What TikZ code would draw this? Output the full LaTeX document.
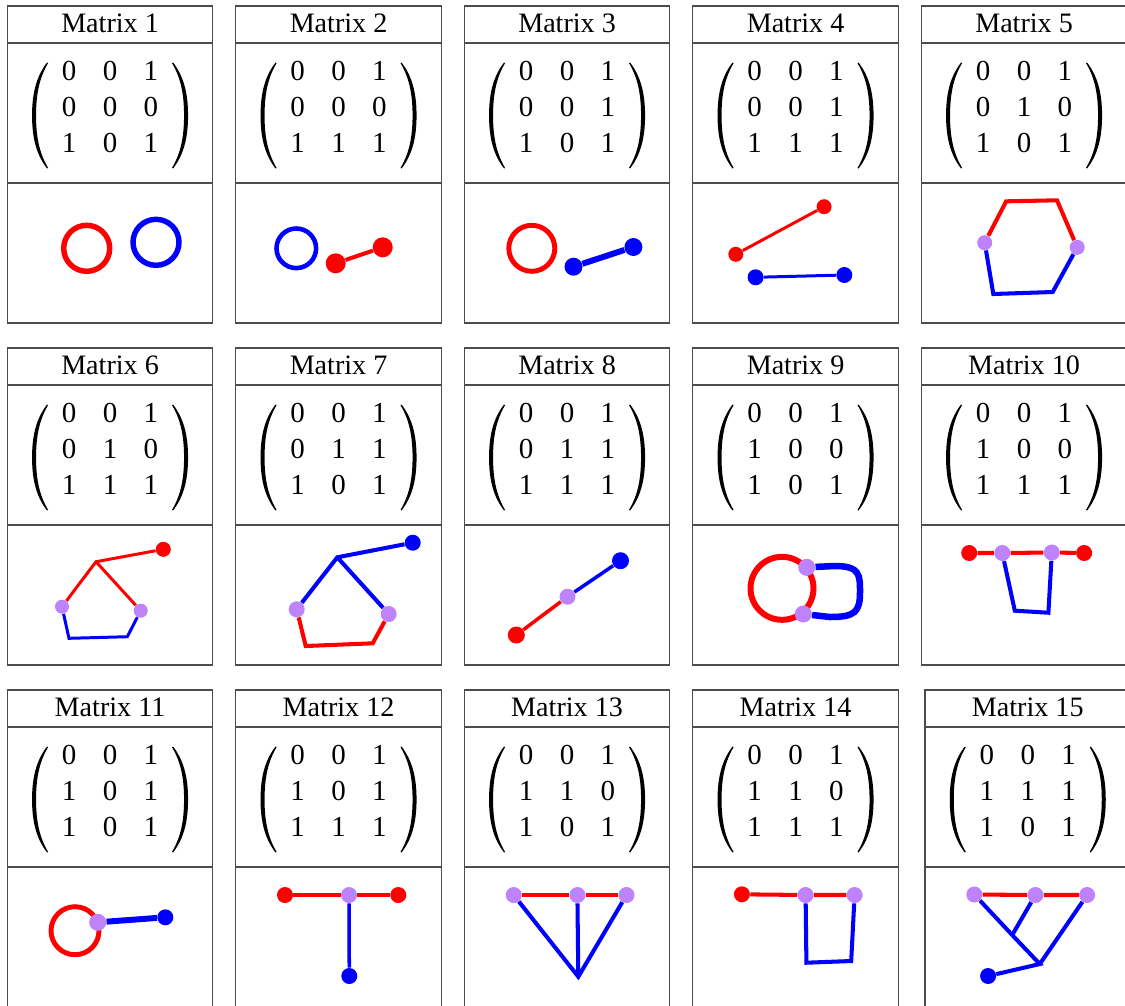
\documentclass[tikz,border=0pt]{standalone}
\usepackage{fontspec}
\setmainfont{Liberation Serif}
\usetikzlibrary{positioning}
\definecolor{lav}{RGB}{190,130,250}
\setlength{\tabcolsep}{7.5pt}
\tikzset{
  cellbox/.style={draw=black!70, line width=0.6pt},
  titletext/.style={font=\fontsize{16}{19}\selectfont, anchor=base, inner sep=0pt},
  mattext/.style={font=\fontsize{16.5}{20.5}\selectfont, inner sep=0pt},
  paren/.style={fill=black},
  reddot/.style={circle, fill=red, inner sep=0pt, minimum size=3.2mm},
  bluedot/.style={circle, fill=blue, inner sep=0pt, minimum size=3.2mm},
  mixdot/.style={circle, fill=lav, inner sep=0pt, minimum size=3.2mm},
  redline/.style={draw=red, line width=2.3pt},
  blueline/.style={draw=blue, line width=2.3pt}
}
% one big left parenthesis, centred on the current origin
\newcommand{\bigparen}{(-63,-53) .. controls (-73,-40) and (-78,-24) .. (-78,0)
  .. controls (-78,24) and (-73,40) .. (-63,53) -- (-62,52.3)
  .. controls (-70.5,38) and (-74,22) .. (-74,0)
  .. controls (-74,-22) and (-70.5,-38) .. (-62,-52.3) -- cycle}
% frame, title and matrix of one panel: x, y, number, three rows
\newcommand{\matpanel}[6]{%
  \draw[cellbox] (#1,#2) rectangle ++(205.5,37);
  \draw[cellbox] (#1,#2+37) rectangle ++(205.5,140);
  \draw[cellbox] (#1,#2+177) rectangle ++(205.5,140);
  \node[titletext] (t#3) at (#1+102.75,#2+26.6) {Matrix #3};
  \node[mattext] (m#3) at (#1+102.75,#2+103.5) {\begin{tabular}{ccc}#4\\#5\\#6\end{tabular}};
  \begin{scope}[shift={(#1+102.75,#2+109.5)}]
    \fill[paren] \bigparen;
    \fill[paren, xscale=-1] \bigparen;
  \end{scope}
}

\begin{document}
\begin{tikzpicture}[x=0.02cm,y=-0.02cm]
  \path[use as bounding box, fill=white] (0,0) rectangle (1125,1005);

  \matpanel{7.3}{6}{1}{0&0&1}{0&0&0}{1&0&1}
  \matpanel{235.8}{6}{2}{0&0&1}{0&0&0}{1&1&1}
  \matpanel{464.3}{6}{3}{0&0&1}{0&0&1}{1&0&1}
  \matpanel{692.8}{6}{4}{0&0&1}{0&0&1}{1&1&1}
  \matpanel{921.3}{6}{5}{0&0&1}{0&1&0}{1&0&1}
  \matpanel{7.3}{348}{6}{0&0&1}{0&1&0}{1&1&1}
  \matpanel{235.8}{348}{7}{0&0&1}{0&1&1}{1&0&1}
  \matpanel{464.3}{348}{8}{0&0&1}{0&1&1}{1&1&1}
  \matpanel{692.8}{348}{9}{0&0&1}{1&0&0}{1&0&1}
  \matpanel{921.3}{348}{10}{0&0&1}{1&0&0}{1&1&1}
  \matpanel{7.3}{690}{11}{0&0&1}{1&0&1}{1&0&1}
  \matpanel{235.8}{690}{12}{0&0&1}{1&0&1}{1&1&1}
  \matpanel{464.3}{690}{13}{0&0&1}{1&1&0}{1&0&1}
  \matpanel{692.8}{690}{14}{0&0&1}{1&1&0}{1&1&1}
  \matpanel{925}{690}{15}{0&0&1}{1&1&1}{1&0&1}

  % Matrix 1
  \coordinate (o1a) at (86.7,248.3);
  \coordinate (o1b) at (156,242.3);
  \draw[redline, line width=3.1pt] (o1a) circle[radius=23];
  \draw[blueline, line width=3.1pt] (o1b) circle[radius=23];

  % Matrix 2
  \coordinate (o2) at (296.3,248.3);
  \draw[blueline, line width=2.6pt] (o2) circle[radius=19.8];
  \node[reddot, minimum size=4mm] (r2a) at (335.7,263.3) {};
  \node[reddot, minimum size=4mm] (r2b) at (382.7,247.3) {};
  \draw[redline] (r2a) -- (r2b);

  % Matrix 3
  \coordinate (o3) at (531.8,248.3);
  \draw[redline, line width=2.8pt] (o3) circle[radius=23];
  \node[bluedot, minimum size=3.6mm] (b3a) at (573.5,266.7) {};
  \node[bluedot, minimum size=3.6mm] (b3b) at (633.4,247) {};
  \draw[blueline, line width=3.4pt] (b3a) -- (b3b);

  % Matrix 4
  \node[reddot, minimum size=3mm] (r4a) at (735.8,254.3) {};
  \node[reddot, minimum size=3mm] (r4b) at (824.1,206.7) {};
  \node[bluedot] (b4a) at (755.6,277.3) {};
  \node[bluedot] (b4b) at (844.3,275) {};
  \draw[redline, line width=1.7pt] (r4a) -- (r4b);
  \draw[blueline, line width=1.7pt] (b4a) -- (b4b);

  % Matrix 5
  \node[mixdot, minimum size=3mm] (m5a) at (984.7,242.7) {};
  \node[mixdot, minimum size=3mm] (m5b) at (1077.2,247.3) {};
  \coordinate (t5a) at (1006.2,201.3);
  \coordinate (t5b) at (1057,200.3);
  \coordinate (s5a) at (993.3,294);
  \coordinate (s5b) at (1052.7,292);
  \draw[redline] (m5a) -- (t5a) -- (t5b) -- (m5b);
  \draw[blueline] (m5a) -- (s5a) -- (s5b) -- (m5b);

  % Matrix 6
  \node[reddot, minimum size=3mm] (r6) at (163.3,549.3) {};
  \coordinate (k6) at (96,561.7);
  \node[mixdot, minimum size=2.8mm] (m6a) at (62,606.7) {};
  \node[mixdot, minimum size=2.8mm] (m6b) at (140.7,610.7) {};
  \coordinate (s6a) at (69,638.3);
  \coordinate (s6b) at (127.3,636.7);
  \draw[redline, line width=1.7pt] (r6) -- (k6) -- (m6a) (k6) -- (m6b);
  \draw[blueline, line width=1.7pt] (m6a) -- (s6a) -- (s6b) -- (m6b);

  % Matrix 7
  \node[bluedot] (b7) at (412.7,542.7) {};
  \coordinate (k7) at (337.3,557.3);
  \node[mixdot] (m7a) at (296.7,609.3) {};
  \node[mixdot] (m7b) at (388.7,614) {};
  \coordinate (s7a) at (305.7,646);
  \coordinate (s7b) at (372.7,643.3);
  \draw[blueline] (b7) -- (k7) -- (m7a) (k7) -- (m7b);
  \draw[redline] (m7a) -- (s7a) -- (s7b) -- (m7b);

  % Matrix 8
  \node[reddot, minimum size=3.4mm] (r8) at (516.3,635) {};
  \node[mixdot] (m8) at (567.5,596.7) {};
  \node[bluedot, minimum size=3.4mm] (b8) at (620.5,560.7) {};
  \draw[redline, line width=2pt] (r8) -- (m8);
  \draw[blueline, line width=2pt] (m8) -- (b8);

  % Matrix 9
  \coordinate (o9) at (782,588.3);
  \draw[redline, line width=3.4pt] (o9) circle[radius=31.5];
  \node[mixdot, minimum size=3.4mm] (m9a) at (806.7,567.3) {};
  \node[mixdot, minimum size=3.4mm] (m9b) at (803.3,614) {};
  \draw[blueline, line width=3.7pt] (m9a) -- (835,566) .. controls (860,566) and (860,575) .. (860,592)
    .. controls (860,612) and (855,617) .. (830,617) -- (m9b);

  % Matrix 10
  \node[reddot] (r10a) at (969.2,553) {};
  \node[mixdot] (m10a) at (1002.3,553) {};
  \node[mixdot] (m10b) at (1051.8,552.5) {};
  \node[reddot] (r10b) at (1084.1,553) {};
  \coordinate (s10a) at (1014.8,610.7);
  \coordinate (s10b) at (1048.4,612.7);
  \draw[redline] (r10a) -- (m10a) -- (m10b) -- (r10b);
  \draw[blueline] (m10a) -- (s10a) -- (s10b) -- (m10b);

  % Matrix 11
  \coordinate (o11) at (75,930.7);
  \draw[redline, line width=2.8pt] (o11) circle[radius=24];
  \node[mixdot, minimum size=3.4mm] (m11) at (97.7,922.3) {};
  \node[bluedot] (b11) at (165.3,917.3) {};
  \draw[blueline, line width=3.4pt] (m11) -- (b11);

  % Matrix 12
  \node[reddot] (r12a) at (285,895) {};
  \node[mixdot] (m12) at (349,895) {};
  \node[reddot] (r12b) at (398.3,895) {};
  \node[bluedot] (b12) at (349.3,976) {};
  \draw[redline, line width=2pt] (r12a) -- (m12) -- (r12b);
  \draw[blueline, line width=2pt] (m12) -- (b12);

  % Matrix 13
  \node[mixdot] (m13a) at (513.7,895) {};
  \node[mixdot] (m13b) at (577.4,895) {};
  \node[mixdot] (m13c) at (626.5,895) {};
  \coordinate (k13) at (578.3,976.7);
  \draw[redline] (m13a) -- (m13b) -- (m13c);
  \draw[blueline] (m13a) -- (k13) -- (m13c) (m13b) -- (k13);

  % Matrix 14
  \node[reddot] (r14) at (741.9,894.3) {};
  \node[mixdot] (m14a) at (805.6,895) {};
  \node[mixdot] (m14b) at (854.6,895) {};
  \coordinate (s14a) at (806.4,962.7);
  \coordinate (s14b) at (851.2,961);
  \draw[redline] (r14) -- (m14a) -- (m14b);
  \draw[blueline] (m14a) -- (s14a) -- (s14b) -- (m14b);

  % Matrix 15
  \node[mixdot] (m15a) at (974.3,894.5) {};
  \node[mixdot] (m15b) at (1035.4,895) {};
  \node[mixdot] (m15c) at (1087.1,895) {};
  \coordinate (k15a) at (1012.2,935);
  \coordinate (k15b) at (1039.8,964);
  \node[bluedot] (b15) at (988.1,976) {};
  \draw[redline] (m15a) -- (m15b) -- (m15c);
  \draw[blueline] (m15a) -- (k15a) -- (k15b) -- (b15) (m15b) -- (k15a) (m15c) -- (k15b);
\end{tikzpicture}
\end{document}
